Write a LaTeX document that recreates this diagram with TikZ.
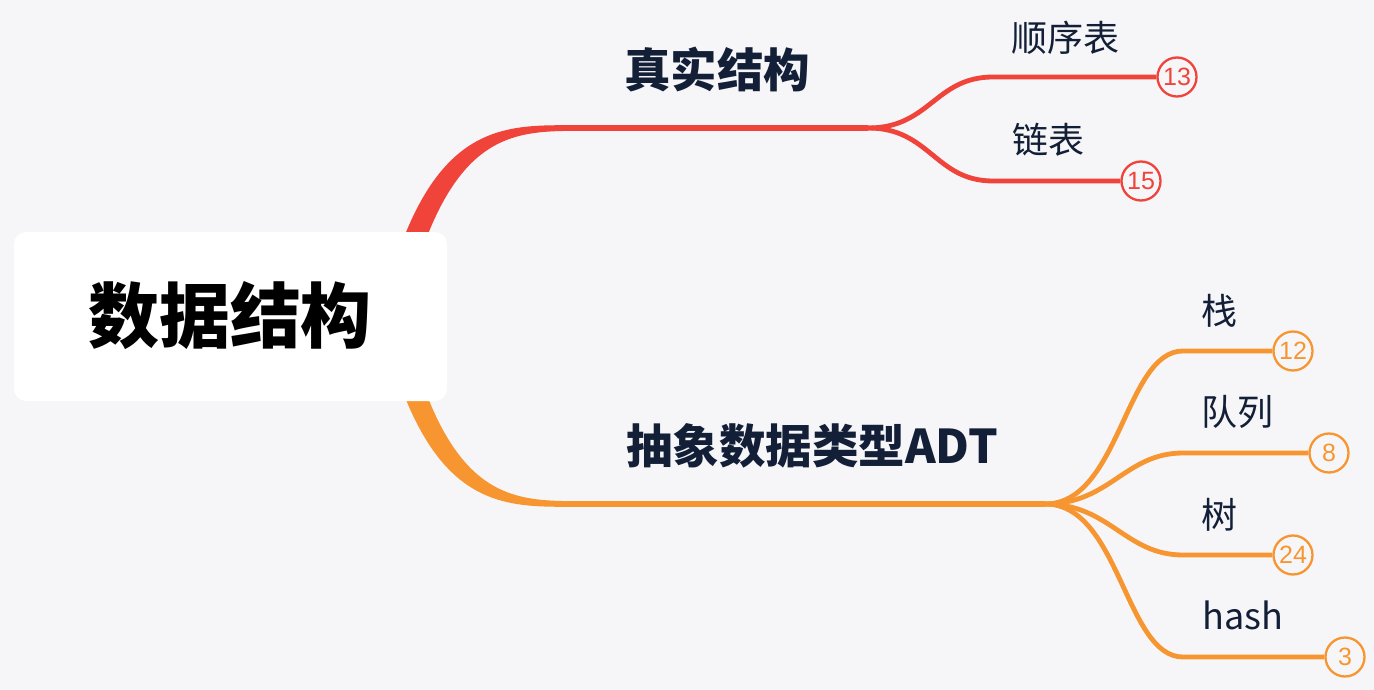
\documentclass[tikz,border=0pt]{standalone}
\usepackage{fontspec}
\newfontfamily\cjk{Noto Sans CJK SC}
\newfontfamily\numf{Liberation Sans}
\definecolor{bg}{RGB}{246,246,249}
\definecolor{redb}{RGB}{240,67,58}
\definecolor{orab}{RGB}{247,150,48}
\definecolor{navy}{RGB}{18,31,54}
\tikzset{
  rootbox/.style={fill=white,rounded corners=12pt,draw=none},
  topic/.style={font=\cjk\bfseries\fontsize{46.5}{50}\selectfont,text=navy,inner sep=0pt},
  leaf/.style={font=\cjk\fontsize{36}{40}\selectfont,text=navy,inner sep=0pt,anchor=west},
  cnt/.style={circle,draw=#1,fill=bg,line width=2.3pt,minimum size=39pt,inner sep=0pt,text=#1,font=\numf\fontsize{25}{27}\selectfont},
  twig/.style={draw=#1,line width=4.8pt,line cap=butt}
}
\begin{document}
\begin{tikzpicture}[x=1pt,y=-1pt]
\fill[bg] (0,0) rectangle (1374,690);
\useasboundingbox (0,0) rectangle (1374,690);
% tapered main branches
\fill[redb] (380,316) .. controls (426,121) and (500,125.2) .. (575,125.2)
  -- (575,130.8) .. controls (508,131.5) and (446,134) .. (403,316) -- cycle;
\fill[orab] (380,316) .. controls (426,511) and (500,506.8) .. (575,506.8)
  -- (575,501.2) .. controls (508,500.5) and (446,498) .. (403,316) -- cycle;
% root
\node[rootbox,minimum width=433pt,minimum height=169pt] (root) at (230.5,316.5) {};
\node[font=\cjk\bfseries\fontsize{71}{75}\selectfont,text=black,inner sep=0pt] (roott) at (230,316) {数据结构};
% coordinates
\coordinate (r0) at (575,128);
\coordinate (rf) at (868,128);
\coordinate (o0) at (575,504);
\coordinate (of) at (1045,504);
\draw[redb,line width=5.2pt] (r0) -- (rf);
\draw[orab,line width=5.2pt] (o0) -- (of);
% topics
\node[topic] (t1) at (717,70) {真实结构};
\node[topic] (t2) at (812,446) {抽象数据类型ADT};
% count circles
\node[cnt=redb] (c13) at (1177,77) {13};
\node[cnt=redb] (c15) at (1141,181) {15};
\node[cnt=orab] (c12) at (1293,351) {12};
\node[cnt=orab] (c8) at (1329,453) {8};
\node[cnt=orab] (c24) at (1293,555) {24};
\node[cnt=orab] (c3) at (1345,657) {3};
% twigs
\draw[twig=redb] (rf) .. controls (930,128) and (935,77) .. (993,77) -- (c13.west);
\draw[twig=redb] (rf) .. controls (930,128) and (935,181) .. (993,181) -- (c15.west);
\draw[twig=orab] (of) .. controls (1120,504) and (1125,351) .. (1183,351) -- (c12.west);
\draw[twig=orab] (of) .. controls (1110,504) and (1125,453) .. (1183,453) -- (c8.west);
\draw[twig=orab] (of) .. controls (1110,504) and (1125,555) .. (1183,555) -- (c24.west);
\draw[twig=orab] (of) .. controls (1120,504) and (1125,657) .. (1183,657) -- (c3.west);
% leaf labels
\node[leaf] (l1) at (1011,38) {顺序表};
\node[leaf] (l2) at (1012,140) {链表};
\node[leaf] (l3) at (1201,311) {栈};
\node[leaf] (l4) at (1201,412) {队列};
\node[leaf] (l5) at (1201,515) {树};
\node[leaf] (l6) at (1202,615) {hash};
\end{tikzpicture}
\end{document}
